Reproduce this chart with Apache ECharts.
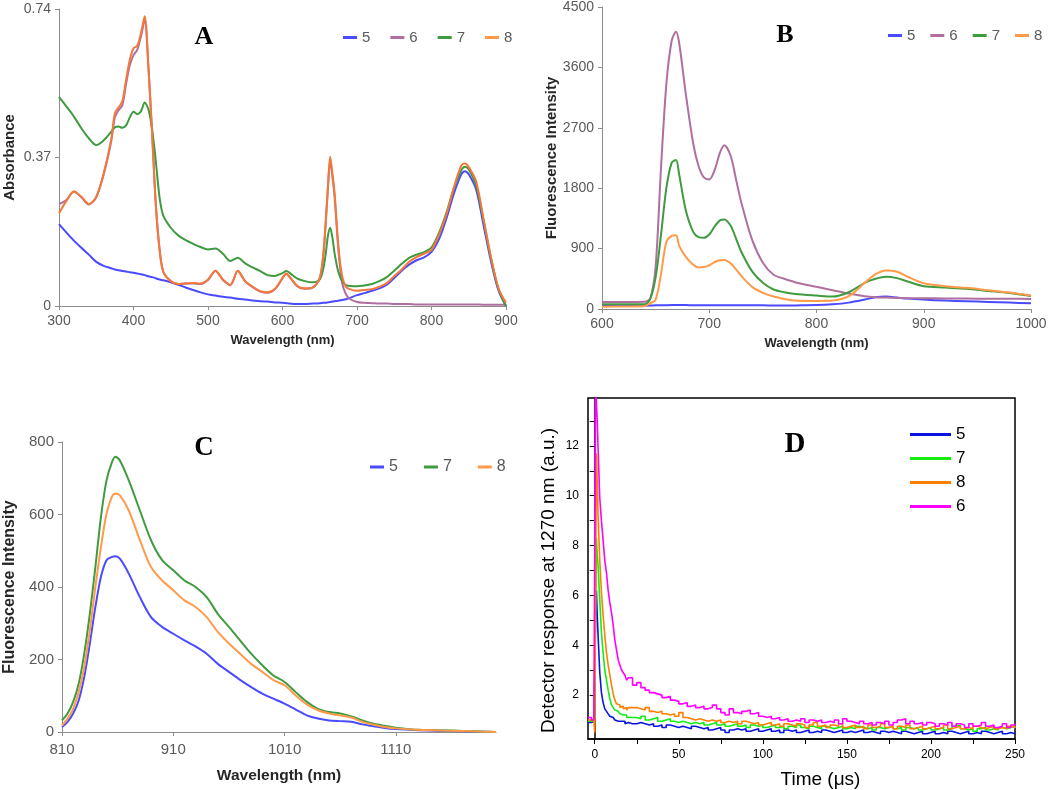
<!DOCTYPE html>
<html>
<head>
<meta charset="utf-8">
<title>Spectra 5-8</title>
<script src="https://cdn.jsdelivr.net/npm/echarts@6/dist/echarts.min.js"></script>
<style>
  html, body { margin: 0; padding: 0; background: #fff; }
  #chart { width: 1050px; height: 790px; }
</style>
</head>
<body>
<div id="chart"></div>
<script>
// A - absorbance spectra
const wlA = [300, 310, 320, 330, 340, 350, 360, 370, 375, 380,
  385, 390, 395, 400, 405, 410, 415, 420, 425, 430,
  435, 440, 450, 460, 470, 480, 490, 500, 510, 520,
  530, 540, 550, 560, 570, 580, 590, 600, 605, 610,
  620, 630, 640, 650, 655, 658, 661, 664, 667, 670,
  675, 680, 685, 690, 700, 710, 720, 730, 740, 750,
  760, 770, 780, 790, 800, 810, 820, 830, 840, 845,
  850, 860, 870, 880, 890, 900];
const absA5 = [0.204, 0.183, 0.163, 0.145, 0.128, 0.110, 0.100, 0.094, 0.091, 0.089,
  0.087, 0.086, 0.084, 0.083, 0.081, 0.079, 0.077, 0.074, 0.072, 0.069,
  0.066, 0.064, 0.059, 0.053, 0.046, 0.040, 0.034, 0.029, 0.026, 0.023,
  0.021, 0.018, 0.016, 0.014, 0.012, 0.011, 0.009, 0.008, 0.007, 0.006,
  0.005, 0.005, 0.006, 0.007, 0.008, 0.008, 0.009, 0.010, 0.011, 0.012,
  0.013, 0.015, 0.017, 0.020, 0.027, 0.032, 0.038, 0.044, 0.053, 0.070,
  0.088, 0.103, 0.114, 0.121, 0.135, 0.166, 0.218, 0.280, 0.328, 0.336,
  0.328, 0.290, 0.200, 0.110, 0.038, 0.000];
const absA6 = [0.254, 0.264, 0.285, 0.271, 0.253, 0.271, 0.328, 0.410, 0.470, 0.488,
  0.500, 0.553, 0.600, 0.625, 0.638, 0.672, 0.712, 0.596, 0.430, 0.252,
  0.142, 0.086, 0.062, 0.055, 0.056, 0.056, 0.055, 0.065, 0.087, 0.065,
  0.052, 0.087, 0.061, 0.047, 0.036, 0.033, 0.042, 0.069, 0.080, 0.071,
  0.049, 0.043, 0.045, 0.068, 0.130, 0.205, 0.292, 0.362, 0.322, 0.270,
  0.140, 0.058, 0.030, 0.018, 0.010, 0.008, 0.007, 0.006, 0.006, 0.005,
  0.005, 0.005, 0.004, 0.004, 0.004, 0.004, 0.004, 0.004, 0.004, 0.004,
  0.004, 0.004, 0.003, 0.003, 0.003, 0.003];
const absA7 = [0.521, 0.497, 0.472, 0.443, 0.418, 0.401, 0.413, 0.434, 0.445, 0.447,
  0.444, 0.450, 0.470, 0.484, 0.478, 0.485, 0.507, 0.490, 0.440, 0.360,
  0.270, 0.225, 0.195, 0.176, 0.164, 0.155, 0.147, 0.141, 0.143, 0.130,
  0.112, 0.120, 0.106, 0.096, 0.087, 0.077, 0.075, 0.082, 0.087, 0.082,
  0.068, 0.062, 0.059, 0.066, 0.095, 0.130, 0.175, 0.195, 0.170, 0.130,
  0.085, 0.062, 0.052, 0.050, 0.049, 0.051, 0.055, 0.062, 0.072, 0.088,
  0.105, 0.120, 0.128, 0.134, 0.146, 0.182, 0.232, 0.293, 0.338, 0.347,
  0.340, 0.300, 0.212, 0.118, 0.042, 0.000];
const absA8 = [0.231, 0.262, 0.285, 0.272, 0.254, 0.272, 0.330, 0.414, 0.480, 0.495,
  0.510, 0.563, 0.613, 0.642, 0.648, 0.680, 0.722, 0.596, 0.430, 0.250,
  0.140, 0.085, 0.062, 0.055, 0.056, 0.057, 0.056, 0.066, 0.088, 0.066,
  0.053, 0.088, 0.062, 0.048, 0.037, 0.034, 0.043, 0.070, 0.081, 0.072,
  0.050, 0.044, 0.046, 0.070, 0.135, 0.210, 0.300, 0.372, 0.330, 0.280,
  0.150, 0.075, 0.048, 0.042, 0.038, 0.040, 0.042, 0.048, 0.057, 0.075,
  0.091, 0.110, 0.122, 0.130, 0.140, 0.177, 0.228, 0.295, 0.350, 0.355,
  0.346, 0.310, 0.215, 0.120, 0.044, 0.008];

// B - fluorescence, visible/NIR
const wlB = [600, 620, 640, 645, 650, 655, 660, 665, 669, 672,
  678, 685, 690, 695, 700, 705, 710, 714, 720, 725,
  730, 740, 750, 760, 770, 780, 800, 815, 830, 845,
  855, 865, 875, 885, 900, 920, 940, 960, 980, 1000];
const flB5 = [45, 48, 50, 52, 55, 55, 57, 58, 58, 58,
  58, 57, 57, 57, 57, 56, 56, 56, 55, 55,
  55, 55, 55, 52, 52, 54, 58, 70, 95, 140,
  175, 185, 170, 155, 140, 125, 115, 105, 95, 85];
const flB6 = [104, 104, 108, 160, 630, 2100, 3350, 4000, 4130, 3960,
  3220, 2470, 2130, 1960, 1930, 2070, 2330, 2440, 2280, 1930,
  1580, 1030, 690, 510, 450, 400, 330, 280, 230, 190,
  175, 170, 165, 162, 160, 157, 155, 154, 152, 150];
const flB7 = [70, 70, 72, 150, 470, 1100, 1800, 2180, 2220, 2000,
  1480, 1150, 1070, 1060, 1110, 1230, 1320, 1335, 1240, 1050,
  850, 560, 390, 290, 250, 225, 200, 185, 250, 390,
  450, 480, 460, 410, 340, 320, 300, 270, 240, 195];
const flB8 = [35, 38, 45, 85, 140, 520, 1000, 1090, 1100, 940,
  780, 660, 620, 625, 650, 700, 725, 730, 680, 590,
  490, 330, 240, 185, 150, 125, 120, 125, 190, 390,
  520, 575, 555, 480, 385, 340, 315, 280, 245, 200];

// C - fluorescence, NIR
const wlC = [810, 815, 820, 825, 830, 835, 840, 845, 850, 855,
  858, 862, 870, 880, 890, 900, 910, 920, 930, 940,
  950, 960, 970, 980, 990, 1000, 1010, 1020, 1030, 1040,
  1050, 1060, 1070, 1080, 1090, 1100, 1110, 1130, 1150, 1170,
  1190, 1200];
const flC5 = [14, 28, 51, 87, 152, 244, 345, 428, 474, 483,
  485, 478, 437, 372, 317, 290, 271, 253, 236, 216,
  188, 166, 144, 124, 106, 92, 78, 62, 46, 37,
  32, 30, 28, 21, 16, 11, 8, 5, 3, 2,
  1, 0];
const flC7 = [32, 51, 83, 133, 216, 326, 455, 593, 694, 745,
  759, 749, 694, 611, 529, 474, 446, 418, 400, 372,
  326, 290, 253, 216, 184, 156, 138, 110, 83, 64,
  55, 51, 43, 32, 23, 17, 12, 6, 5, 3,
  1, 0];
const flC8 = [18, 37, 64, 110, 179, 280, 400, 510, 602, 650,
  657, 653, 611, 529, 455, 418, 391, 363, 345, 317,
  276, 244, 216, 188, 166, 143, 129, 101, 76, 60,
  51, 46, 40, 28, 20, 14, 10, 6, 4, 3,
  1, 0];

// D - 1270 nm decay traces
const tD = [-4, -2, -0.5, 0, 0.5, 1, 1.5, 2, 3, 4,
  5, 6, 7, 8, 9, 10, 11, 12, 13, 14,
  15, 16, 17, 18, 19, 20,
  22.5, 25, 27.5, 30, 32.5, 35, 37.5, 40, 42.5, 45,
  47.5, 50, 52.5, 55, 57.5, 60, 62.5, 65, 67.5, 70,
  72.5, 75, 77.5, 80, 82.5, 85, 87.5, 90, 92.5, 95,
  97.5, 100, 102.5, 105, 107.5, 110, 112.5, 115, 117.5, 120,
  122.5, 125, 127.5, 130, 132.5, 135, 137.5, 140, 142.5, 145,
  147.5, 150, 152.5, 155, 157.5, 160, 162.5, 165, 167.5, 170,
  172.5, 175, 177.5, 180, 182.5, 185, 187.5, 190, 192.5, 195,
  197.5, 200, 202.5, 205, 207.5, 210, 212.5, 215, 217.5, 220,
  222.5, 225, 227.5, 230, 232.5, 235, 237.5, 240, 242.5, 245,
  247.5, 250];
const sigD5 = [0.9, 0.95, 1.0, 0.9, 5.3, 6.2, 5.2, 4.4, 2.9, 2.1,
  1.7, 1.45, 1.35, 1.25, 1.15, 1.1, 1.05, 1.0, 0.95, 0.9,
  0.95, 0.9, 0.95, 0.85, 0.9, 0.85,
  0.85, 0.9, 0.85, 0.8, 0.85, 0.75, 0.8, 0.7, 0.8, 0.75,
  0.7, 0.75, 0.7, 0.65, 0.75, 0.7, 0.65, 0.7, 0.6, 0.65,
  0.7, 0.6, 0.5, 0.6, 0.65, 0.6, 0.65, 0.55, 0.6, 0.65,
  0.55, 0.6, 0.65, 0.55, 0.6, 0.5, 0.6, 0.55, 0.6, 0.5,
  0.55, 0.6, 0.5, 0.55, 0.5, 0.6, 0.55, 0.5, 0.55, 0.6,
  0.5, 0.55, 0.5, 0.55, 0.6, 0.5, 0.55, 0.5, 0.45, 0.55,
  0.5, 0.55, 0.5, 0.45, 0.55, 0.5, 0.45, 0.5, 0.55, 0.45,
  0.5, 0.55, 0.45, 0.5, 0.45, 0.55, 0.5, 0.45, 0.5, 0.55,
  0.45, 0.5, 0.45, 0.55, 0.5, 0.45, 0.5, 0.55, 0.45, 0.5,
  0.45, 0.5];
const sigD7 = [0.95, 1.0, 0.9, 1.0, 5.0, 8.3, 7.6, 7.2, 5.8, 4.5,
  3.7, 3.0, 2.6, 2.2, 1.85, 1.6, 1.5, 1.4, 1.35, 1.3,
  1.25, 1.2, 1.15, 1.2, 1.1, 1.1,
  1.1, 1.05, 1.15, 1.0, 1.05, 1.1, 0.95, 1.0, 1.05, 0.95,
  0.9, 0.95, 0.9, 0.85, 0.9, 0.85, 0.9, 0.8, 0.85, 0.9,
  0.8, 0.85, 0.75, 0.8, 0.85, 0.75, 0.8, 0.7, 0.8, 0.75,
  0.8, 0.7, 0.75, 0.8, 0.7, 0.75, 0.65, 0.75, 0.7, 0.8,
  0.7, 0.65, 0.75, 0.7, 0.65, 0.75, 0.7, 0.65, 0.7, 0.75,
  0.65, 0.7, 0.65, 0.75, 0.7, 0.65, 0.7, 0.6, 0.7, 0.65,
  0.7, 0.75, 0.65, 0.7, 0.6, 0.7, 0.65, 0.7, 0.6, 0.65,
  0.7, 0.6, 0.65, 0.7, 0.6, 0.65, 0.75, 0.8, 0.65, 0.6,
  0.65, 0.55, 0.65, 0.7, 0.6, 0.65, 0.6, 0.7, 0.65, 0.7,
  0.75, 0.7];
const sigD8 = [1.0, 1.05, 0.95, 0.5, 6.0, 11.7, 10.5, 9.2, 7.4, 6.1,
  5.2, 4.4, 3.7, 3.2, 2.8, 2.4, 2.05, 1.8, 1.65, 1.6,
  1.5, 1.55, 1.45, 1.5, 1.4, 1.5,
  1.5, 1.45, 1.4, 1.5, 1.35, 1.3, 1.35, 1.25, 1.2, 1.25,
  1.15, 1.3, 1.1, 1.05, 1.0, 1.05, 1.0, 0.95, 1.0, 0.95,
  1.0, 0.9, 0.95, 0.9, 0.95, 0.85, 0.95, 0.9, 0.85, 0.9,
  0.8, 0.85, 0.9, 0.8, 0.85, 0.75, 0.85, 0.8, 0.75, 0.85,
  0.8, 0.7, 0.8, 0.9, 0.75, 0.8, 0.7, 0.8, 0.75, 0.85,
  0.7, 0.75, 0.8, 0.7, 0.75, 0.65, 0.8, 0.7, 0.75, 0.85,
  0.7, 0.75, 0.65, 0.75, 0.7, 0.8, 0.65, 0.7, 0.75, 0.65,
  0.7, 0.75, 0.65, 0.7, 0.8, 0.65, 0.7, 0.75, 0.65, 0.7,
  0.65, 0.75, 0.7, 0.65, 0.7, 0.75, 0.65, 0.7, 0.65, 0.75,
  0.7, 0.75];
const sigD6 = [1.1, 1.0, 1.05, 1.0, 14.5, 14.5, 13.0, 11.9, 9.9, 9.0,
  8.2, 7.4, 6.9, 6.2, 5.7, 5.3, 4.8, 4.2, 3.8, 3.4,
  3.2, 3.0, 2.9, 2.8, 2.6, 2.7,
  2.4, 2.5, 2.3, 2.2, 2.1, 2.05, 2.0, 1.9, 1.95, 1.8,
  1.75, 1.65, 1.7, 1.55, 1.6, 1.5, 1.55, 1.45, 1.5, 1.6,
  1.45, 1.3, 1.2, 1.45, 1.3, 1.25, 1.35, 1.4, 1.25, 1.3,
  1.15, 1.1, 1.15, 1.05, 1.1, 1.0, 1.05, 0.95, 1.0, 0.95,
  1.05, 0.9, 1.0, 0.95, 1.0, 0.9, 0.95, 0.9, 1.0, 0.85,
  1.05, 0.95, 0.9, 0.85, 0.95, 0.85, 0.9, 0.8, 0.9, 0.85,
  0.95, 0.8, 0.9, 1.0, 1.05, 0.85, 0.95, 0.85, 0.9, 0.8,
  0.9, 0.85, 0.75, 0.85, 0.8, 0.9, 0.75, 0.85, 0.8, 0.7,
  0.85, 0.75, 0.8, 0.9, 0.75, 0.8, 0.7, 0.75, 0.85, 0.7,
  0.8, 0.85];

const xlCol = { '5': '#4a4aff', '6': '#b0709f', '7': '#3f9b3f', '8': '#ff9a4a' };
const dCol = { '5': '#0a14e0', '6': '#ff00ff', '7': '#14ec14', '8': '#ff8000' };

const FONT = 'Arial, "Liberation Sans", sans-serif';
const pairs = (xs, ys) => xs.map((x, i) => [x, ys[i]]);
const plain = v => String(v);   // no thousands separator

function spec(name, idx, xs, ys, color, w) {
  return {
    name: name, type: 'line', xAxisIndex: idx, yAxisIndex: idx,
    data: pairs(xs, ys), symbol: 'none', smooth: 0.3,
    color: color, lineStyle: { color: color, width: w || 2 }
  };
}
function trace(name, xs, ys, color) {
  return {
    name: name, type: 'line', xAxisIndex: 3, yAxisIndex: 3,
    data: pairs(xs, ys), symbol: 'none', step: 'end',
    color: color, lineStyle: { color: color, width: 1.6 }
  };
}

// excel-like axes for A, B, C
function xlAxis(extra) {
  return Object.assign({
    type: 'value',
    axisLine: { show: true, lineStyle: { color: '#8c8c8c', width: 1 } },
    axisTick: { show: true, inside: false, length: 4, lineStyle: { color: '#8c8c8c' } },
    splitLine: { show: false },
    axisLabel: { color: '#595959', fontSize: 14, fontFamily: FONT, margin: 8, formatter: plain },
    nameLocation: 'middle',
    nameTextStyle: { color: '#262626', fontWeight: 'bold', fontSize: 13, fontFamily: FONT }
  }, extra);
}
function xlLegend(names, left, top, gap, fs) {
  return {
    left: left, top: top, padding: 0, width: 200, itemWidth: 14, itemHeight: 3, itemGap: gap, icon: 'rect',
    textStyle: { color: '#595959', fontSize: fs, fontFamily: FONT },
    data: names.map(n => ({ name: n, itemStyle: { color: xlCol[n] } }))
  };
}

const chart = echarts.init(document.getElementById('chart'));
const option = {
  backgroundColor: '#fff',
  animation: false,
  grid: [
    { left: 59, top: 9, width: 447, height: 297 },
    { left: 602, top: 7, width: 429, height: 302 },
    { left: 62, top: 442, width: 434, height: 290 },
    { left: 588, top: 398, width: 427, height: 342, show: true, borderColor: '#000', borderWidth: 1.5 }
  ],
  xAxis: [
    xlAxis({ gridIndex: 0, min: 300, max: 900, interval: 100, name: 'Wavelength (nm)', nameGap: 28 }),
    xlAxis({ gridIndex: 1, min: 600, max: 1000, interval: 100, name: 'Wavelength (nm)', nameGap: 28 }),
    xlAxis({ gridIndex: 2, min: 810, max: 1200, name: 'Wavelength (nm)', nameGap: 36,
      axisLabel: { color: '#595959', fontSize: 15, fontFamily: FONT, margin: 10, formatter: plain, customValues: [810, 910, 1010, 1110] },
      axisTick: { show: true, length: 4, lineStyle: { color: '#8c8c8c' }, customValues: [810, 910, 1010, 1110] },
      nameTextStyle: { color: '#262626', fontWeight: 'bold', fontSize: 15.5, fontFamily: FONT } }),
    {
      gridIndex: 3, type: 'value', min: -4, max: 250,
      name: 'Time (μs)', nameLocation: 'middle', nameGap: 31,
      nameTextStyle: { color: '#000', fontSize: 19, fontFamily: FONT, padding: [0, 0, 0, 38] },
      axisLine: { show: true, lineStyle: { color: '#000', width: 1.5 } },
      axisTick: { show: true, length: 5, lineStyle: { color: '#000' }, customValues: [0, 25, 50, 75, 100, 125, 150, 175, 200, 225, 250] },
      axisLabel: { color: '#000', fontSize: 12, fontFamily: FONT, margin: 10, customValues: [0, 50, 100, 150, 200, 250] },
      splitLine: { show: false }
    }
  ],
  yAxis: [
    xlAxis({ gridIndex: 0, min: 0, max: 0.74, interval: 0.37, name: 'Absorbance', nameGap: 42,
      nameTextStyle: { color: '#262626', fontWeight: 'bold', fontSize: 15, fontFamily: FONT } }),
    xlAxis({ gridIndex: 1, min: 0, max: 4500, interval: 900, name: 'Fluorescence Intensity', nameGap: 42,
      nameTextStyle: { color: '#262626', fontWeight: 'bold', fontSize: 15, fontFamily: FONT } }),
    xlAxis({ gridIndex: 2, min: 0, max: 800, interval: 200, name: 'Fluorescence Intensity', nameGap: 44,
      axisLabel: { color: '#595959', fontSize: 15, fontFamily: FONT, margin: 8, formatter: plain },
      nameTextStyle: { color: '#262626', fontWeight: 'bold', fontSize: 16, fontFamily: FONT } }),
    {
      gridIndex: 3, type: 'value', min: 0.24, max: 13.92,
      name: 'Detector response at 1270 nm (a.u.)', nameLocation: 'middle', nameGap: 30,
      nameTextStyle: { color: '#000', fontSize: 19, fontFamily: FONT, padding: [0, 24, 0, 0] },
      axisLine: { show: true, lineStyle: { color: '#000', width: 1.5 } },
      axisTick: { show: true, length: 5, lineStyle: { color: '#000' }, customValues: [1, 2, 3, 4, 5, 6, 7, 8, 9, 10, 11, 12, 13] },
      axisLabel: { color: '#000', fontSize: 12, fontFamily: FONT, margin: 9, customValues: [2, 4, 6, 8, 10, 12] },
      splitLine: { show: false }
    }
  ],
  legend: [
    xlLegend(['5', '6', '7', '8'], 343, 30, 20, 15),
    xlLegend(['5', '6', '7', '8'], 888, 28, 15, 15),
    xlLegend(['5', '7', '8'], 370, 459, 26, 16),
    {
      orient: 'vertical', left: 910, top: 426, padding: 0, itemWidth: 41, itemHeight: 3, itemGap: 7, icon: 'rect',
      formatter: n => n.slice(1),
      textStyle: { color: '#000', fontSize: 17, fontFamily: FONT },
      data: ['D5', 'D7', 'D8', 'D6']
    }
  ],
  graphic: [
    ['A', 204, 37, 26], ['B', 785, 35, 26], ['C', 204, 448, 27], ['D', 795, 445, 29]
  ].map(([t, x, y, s]) => ({
    type: 'text', x: x, y: y, z: 10,
    style: { text: t, fill: '#000', align: 'center', verticalAlign: 'middle',
      font: 'bold ' + s + 'px "Liberation Serif", "Times New Roman", serif' }
  })),
  series: [
    spec('5', 0, wlA, absA5, xlCol['5']),
    spec('6', 0, wlA, absA6, xlCol['6']),
    spec('7', 0, wlA, absA7, xlCol['7']),
    spec('8', 0, wlA, absA8, '#f47838'),
    spec('5', 1, wlB, flB5, xlCol['5']),
    spec('6', 1, wlB, flB6, xlCol['6']),
    spec('7', 1, wlB, flB7, xlCol['7']),
    spec('8', 1, wlB, flB8, xlCol['8']),
    spec('5', 2, wlC, flC5, xlCol['5']),
    spec('7', 2, wlC, flC7, xlCol['7']),
    spec('8', 2, wlC, flC8, xlCol['8']),
    trace('D5', tD, sigD5, dCol['5']),
    trace('D7', tD, sigD7, dCol['7']),
    trace('D8', tD, sigD8, dCol['8']),
    trace('D6', tD, sigD6, dCol['6'])
  ]
};
chart.setOption(option);
</script>
</body>
</html>
